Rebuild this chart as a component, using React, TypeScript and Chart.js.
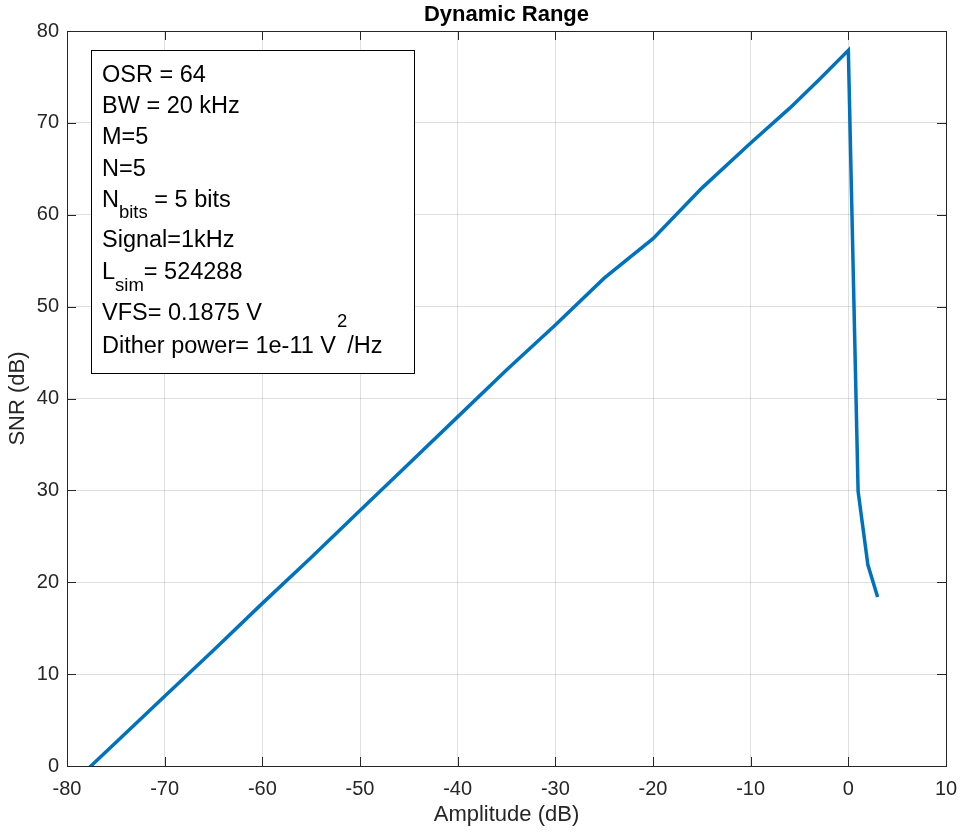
import React, { useEffect, useRef } from "react";
import { Chart, registerables } from "chart.js";

Chart.register(...registerables);

// ---- data ----
const amplitudeDb = [-80, -75, -70, -65, -60, -55, -50, -45, -40, -35, -30, -25, -20, -15, -10, -6, -3, 0, 1, 2, 3];
const snrDb = [-2.45, 2.55, 7.6, 12.6, 17.7, 22.7, 27.8, 32.9, 38.0, 43.1, 48.0, 53.1, 57.4, 62.9, 67.8, 71.6, 74.7, 77.9, 29.9, 21.9, 18.4];

const xRange = [-80, 10];
const yRange = [0, 80];
const tickStep = 10;

const chartTitle = "Dynamic Range";
const xLabel = "Amplitude (dB)";
const yLabel = "SNR (dB)";

type Seg = { t: string; s?: "sub" | "sup" };
const infoLines: Seg[][] = [
  [{ t: "OSR = 64" }],
  [{ t: "BW = 20 kHz" }],
  [{ t: "M=5" }],
  [{ t: "N=5" }],
  [{ t: "N" }, { t: "bits", s: "sub" }, { t: " = 5 bits" }],
  [{ t: "Signal=1kHz" }],
  [{ t: "L" }, { t: "sim", s: "sub" }, { t: "= 524288" }],
  [{ t: "VFS= 0.1875 V" }],
  [{ t: "Dither power= 1e-11 V" }, { t: "2", s: "sup" }, { t: "/Hz" }],
];

const FONT = "'Liberation Sans', Arial, Helvetica, sans-serif";
const AXIS_COLOR = "#262626";

// layout of the text box (pixels)
const BOX = { left: 91.5, top: 50.5, width: 323, height: 323 };
const LINE_BASELINES = [81.7, 112.7, 144, 175.5, 206.7, 247.3, 279.3, 320, 353];
const TEXT_LEFT = 102;
const MAIN_SIZE = 23.5;
const SMALL_SIZE = 18.5;

const overlayPlugin = {
  id: "overlay",
  afterDraw(chart: any) {
    const { ctx, chartArea: a, scales } = chart;
    ctx.save();
    // inward tick marks
    ctx.strokeStyle = AXIS_COLOR;
    ctx.lineWidth = 1;
    const L = 9;
    ctx.beginPath();
    scales.x.ticks.forEach((t: any) => {
      const px = Math.round(scales.x.getPixelForValue(t.value)) + 0.5;
      ctx.moveTo(px, a.bottom);
      ctx.lineTo(px, a.bottom - L);
      ctx.moveTo(px, a.top);
      ctx.lineTo(px, a.top + L);
    });
    scales.y.ticks.forEach((t: any) => {
      const py = Math.round(scales.y.getPixelForValue(t.value)) + 0.5;
      ctx.moveTo(a.left, py);
      ctx.lineTo(a.left + L, py);
      ctx.moveTo(a.right, py);
      ctx.lineTo(a.right - L, py);
    });
    ctx.stroke();
    // axes box
    ctx.strokeRect(Math.round(a.left) + 0.5, Math.round(a.top) + 0.5, Math.round(a.right - a.left), Math.round(a.bottom - a.top));

    // info text box
    ctx.fillStyle = "#ffffff";
    ctx.fillRect(BOX.left, BOX.top, BOX.width, BOX.height);
    ctx.strokeStyle = "#000000";
    ctx.strokeRect(BOX.left, BOX.top, BOX.width, BOX.height);
    ctx.fillStyle = "#000000";
    ctx.textBaseline = "alphabetic";
    ctx.textAlign = "left";
    infoLines.forEach((segs, i) => {
      let x = TEXT_LEFT;
      const base = LINE_BASELINES[i];
      segs.forEach((seg) => {
        let y = base;
        if (seg.s === "sub") {
          ctx.font = `${SMALL_SIZE}px ${FONT}`;
          y = base + 11.6;
        } else if (seg.s === "sup") {
          ctx.font = `${SMALL_SIZE}px ${FONT}`;
          y = base - 26;
          x += 1;
        } else {
          ctx.font = `${MAIN_SIZE}px ${FONT}`;
        }
        ctx.fillText(seg.t, x, y);
        x += ctx.measureText(seg.t).width;
      });
    });
    ctx.restore();
  },
};

export default function App() {
  const ref = useRef<HTMLCanvasElement | null>(null);
  useEffect(() => {
    if (!ref.current) return;
    Chart.defaults.font.family = FONT;
    const chart = new Chart(ref.current, {
      type: "line",
      data: {
        datasets: [
          {
            data: amplitudeDb.map((x, i) => ({ x, y: snrDb[i] })),
            borderColor: "#0072BD",
            backgroundColor: "#0072BD",
            borderWidth: 3.5,
            pointRadius: 0,
            tension: 0,
            fill: false,
            clip: 0,
          } as any,
        ],
      },
      options: {
        animation: false,
        responsive: false,
        maintainAspectRatio: false,
        layout: { padding: { left: 0, right: 14, top: 0, bottom: 0 } },
        plugins: {
          legend: { display: false },
          tooltip: { enabled: false },
          title: {
            display: true,
            text: chartTitle,
            fullSize: false,
            color: "#000000",
            font: { size: 22, weight: "bold", family: FONT },
            padding: { top: 2, bottom: 2.6 },
          },
        },
        scales: {
          x: {
            type: "linear",
            min: xRange[0],
            max: xRange[1],
            ticks: { stepSize: tickStep, color: AXIS_COLOR, font: { size: 20, family: FONT }, padding: 11, maxRotation: 0 },
            grid: { color: "rgba(38,38,38,0.15)", drawTicks: false, lineWidth: 1 },
            border: { display: false },
            title: { display: true, text: xLabel, color: AXIS_COLOR, font: { size: 22, family: FONT }, padding: { top: 0, bottom: 5 } },
            afterFit: (s: any) => {
              s.height = 67;
              s.paddingLeft = 0;
              s.paddingRight = 0;
            },
          },
          y: {
            type: "linear",
            min: yRange[0],
            max: yRange[1],
            ticks: { stepSize: tickStep, color: AXIS_COLOR, font: { size: 20, family: FONT }, padding: 8 },
            grid: { color: "rgba(38,38,38,0.15)", drawTicks: false, lineWidth: 1 },
            border: { display: false },
            title: { display: true, text: yLabel, color: AXIS_COLOR, font: { size: 22, family: FONT }, padding: { top: 5, bottom: 0 } },
            afterFit: (s: any) => {
              s.width = 67;
              s.paddingTop = 0;
              s.paddingBottom = 0;
            },
          },
        },
      },
      plugins: [overlayPlugin],
    });
    return () => chart.destroy();
  }, []);
  return (
    <div style={{ position: "fixed", left: 0, top: 0, width: 960, height: 833, background: "#ffffff" }}>
      <canvas ref={ref} width={960} height={833} style={{ display: "block" }} />
    </div>
  );
}
